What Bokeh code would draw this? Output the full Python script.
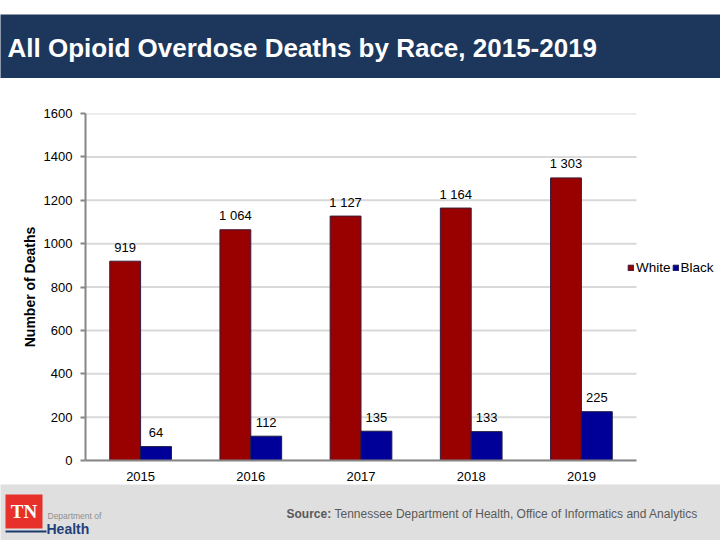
from bokeh.plotting import figure
from bokeh.models import ColumnDataSource, Range1d, Legend, LegendItem, FixedTicker
from bokeh.layouts import column
from bokeh.transform import dodge
from bokeh.core.properties import value
from bokeh.embed import file_html
from bokeh.resources import INLINE

years = ["2015", "2016", "2017", "2018", "2019"]
white = [919, 1064, 1127, 1164, 1303]
black = [64, 112, 135, 133, 225]
y_ticks = [0, 200, 400, 600, 800, 1000, 1200, 1400, 1600]

title_text = "All Opioid Overdose Deaths by Race, 2015-2019"
source_bold = "Source:"
source_rest = "Tennessee Department of Health, Office of Informatics and Analytics"

FONT = "Liberation Sans"
NAVY = "#1d365c"
W = 720

def fmt(v):
    return f"{v:,}".replace(",", " ")

def blank(fig):
    fig.axis.visible = False
    fig.grid.visible = False
    fig.outline_line_color = None

# ---- header ----
hdr = figure(width=W, height=78, x_range=Range1d(0, W), y_range=Range1d(64, 0),
             output_backend="svg", toolbar_location=None, frame_align=False,
             min_border_top=14, min_border_bottom=0, min_border_left=0, min_border_right=0)
blank(hdr)
hdr.background_fill_color = NAVY
hdr.border_fill_color = "white"
hdr.text(x=[7], y=[33], text=[title_text], text_color="white", text_font=value(FONT),
         text_font_style="bold", text_font_size="26px", text_align="left", text_baseline="middle")

# ---- main chart ----
idx = list(range(len(years)))
n = len(years)
src = ColumnDataSource(dict(idx=idx, white=white, black=black,
                            wl=[fmt(v) for v in white], bl=[fmt(v) for v in black]))
p = figure(width=W, height=406, x_range=Range1d(-0.5, n - 0.5 + 84 / 110.2), y_range=Range1d(0, 1600),
           output_backend="svg", toolbar_location=None, frame_align=False,
           min_border_left=85, min_border_right=0, min_border_top=35, min_border_bottom=24)
p.outline_line_color = None
p.background_fill_color = "white"
p.border_fill_color = "white"

# horizontal gridlines limited to the category area
p.segment(x0=-0.5, x1=n - 0.5, y0=y_ticks, y1=y_ticks, line_color="#d9d9d9", line_width=2)

rw = p.vbar(x=dodge("idx", -0.14), top="white", width=0.28, source=src,
            fill_color="#990000", line_color="#3a1a3a", line_width=1)
rb = p.vbar(x=dodge("idx", 0.14), top="black", width=0.28, source=src,
            fill_color="#000099", line_color="#1a1a40", line_width=1)

p.text(x=dodge("idx", -0.14), y="white", text="wl", source=src,
       text_align="center", text_baseline="middle", y_offset=-14,
       text_font=value(FONT), text_font_size="13px", text_color="black")
p.text(x=dodge("idx", 0.14), y="black", text="bl", source=src,
       text_align="center", text_baseline="middle", y_offset=-14,
       text_font=value(FONT), text_font_size="13px", text_color="black")

p.grid.visible = False
p.xaxis.ticker = FixedTicker(ticks=idx)
p.xaxis.major_label_overrides = {i: y for i, y in zip(idx, years)}
p.xaxis.bounds = (-0.5, n - 0.5)
p.yaxis.ticker = FixedTicker(ticks=y_ticks)
for ax in (p.xaxis, p.yaxis):
    ax.axis_line_color = "#868686"
    ax.axis_line_width = 2
    ax.major_label_text_font = FONT
    ax.major_label_text_font_size = "13px"
    ax.major_label_text_color = "black"
    ax.minor_tick_line_color = None
p.xaxis.major_tick_line_color = None
p.xaxis.major_label_standoff = 5
p.yaxis.major_tick_line_color = "#868686"
p.yaxis.major_tick_line_width = 2
p.yaxis.major_tick_in = 0
p.yaxis.major_tick_out = 5
p.yaxis.major_label_standoff = 8
p.yaxis.axis_label = "Number of Deaths"
p.yaxis.axis_label_text_font = FONT
p.yaxis.axis_label_text_font_style = "bold"
p.yaxis.axis_label_text_font_size = "14px"
p.yaxis.axis_label_text_color = "black"
p.yaxis.axis_label_standoff = 3

leg = Legend(items=[LegendItem(label="White", renderers=[rw]), LegendItem(label="Black", renderers=[rb])],
             location=(542, 185), orientation="horizontal", padding=0, margin=0, spacing=1,
             glyph_width=7, glyph_height=7, label_standoff=2, label_height=14,
             label_text_font=FONT, label_text_font_size="13.5px", label_text_color="black",
             background_fill_alpha=0, border_line_alpha=0)
p.add_layout(leg, "center")

# ---- footer ----
ft = figure(width=W, height=56, x_range=Range1d(0, W), y_range=Range1d(56, 0),
            output_backend="svg", toolbar_location=None, frame_align=False,
            min_border_top=0, min_border_bottom=0, min_border_left=0, min_border_right=0)
blank(ft)
ft.background_fill_color = "#dfdfdf"
ft.border_fill_color = "#dfdfdf"
ft.quad(left=[5], right=[42], top=[10], bottom=[44], fill_color="#e8302a", line_color=None)
ft.segment(x0=[5], y0=[47], x1=[46], y1=[47], line_color="#1d3a6e", line_width=2)
ft.text(x=[23.5], y=[27], text=["TN"], text_color="white", text_font=value("Liberation Serif"),
        text_font_style="bold", text_font_size="19px", text_align="center", text_baseline="middle")
ft.text(x=[47], y=[31], text=["Department of"], text_color="#8f8f8f", text_font=value(FONT),
        text_font_size="8.5px", text_align="left", text_baseline="middle")
ft.text(x=[46], y=[44], text=["Health"], text_color="#1f3f7a", text_font=value(FONT),
        text_font_style="bold", text_font_size="14px", text_align="left", text_baseline="middle")
ft.text(x=[286], y=[29], text=[source_bold], text_color="#595959", text_font=value(FONT),
        text_font_style="bold", text_font_size="12px", text_align="left", text_baseline="middle")
ft.text(x=[334], y=[29], text=[source_rest], text_color="#595959", text_font=value(FONT),
        text_font_size="12px", text_align="left", text_baseline="middle")

layout = column(hdr, p, ft, spacing=0)
open("out.html", "w").write(file_html(layout, INLINE))
